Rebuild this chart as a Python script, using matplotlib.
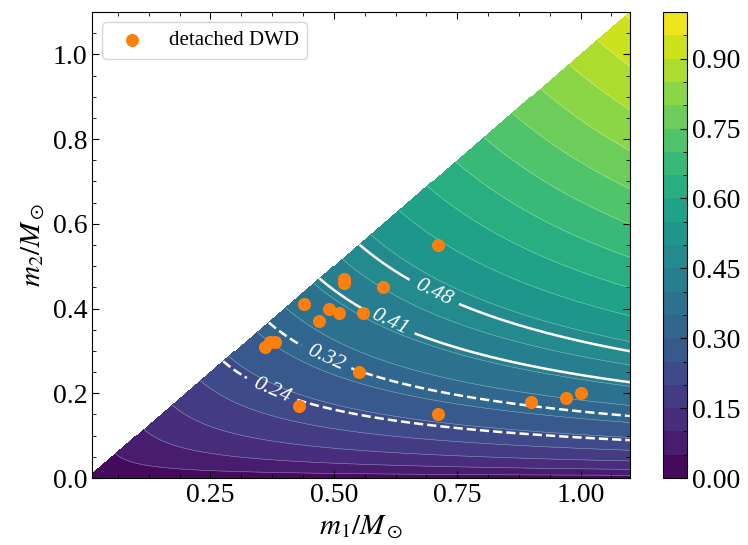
import numpy as np
import matplotlib
matplotlib.use('Agg')
import matplotlib.pyplot as plt
from matplotlib.ticker import AutoMinorLocator, MultipleLocator

plt.rcParams['font.family'] = ['Liberation Serif', 'DejaVu Serif']
plt.rcParams['mathtext.fontset'] = 'stix'
plt.rcParams['xtick.direction'] = 'in'
plt.rcParams['ytick.direction'] = 'in'
plt.rcParams['xtick.top'] = True
plt.rcParams['ytick.right'] = True

# Detached double white dwarfs (m1, m2) in solar masses
dwd_m1 = [0.71, 0.52, 0.52, 0.60, 0.44, 0.49, 0.51, 0.56, 0.47,
          0.38, 0.37, 0.36, 0.55, 0.43, 0.71, 0.90, 0.97, 1.00]
dwd_m2 = [0.55, 0.47, 0.46, 0.45, 0.41, 0.40, 0.39, 0.39, 0.37,
          0.32, 0.32, 0.31, 0.25, 0.17, 0.15, 0.18, 0.19, 0.20]

# Chirp mass levels
fill_levels = np.linspace(0.0, 1.0, 21)
line_levels = [0.24, 0.32, 0.41, 0.48]
line_styles = ['dashed', 'dashed', 'solid', 'solid']
label_spots = [(0.375, 0.211), (0.485, 0.286), (0.611, 0.364), (0.705, 0.443)]

# Grid (m2 <= m1 only)
m1 = np.linspace(0.01, 1.1, 600)
m2 = np.linspace(0.0, 1.1, 600)
M1, M2 = np.meshgrid(m1, m2)
chirp = (M1 * M2) ** 0.6 / (M1 + M2) ** 0.2
chirp = np.ma.masked_where(M2 > M1, chirp)

fig = plt.figure(figsize=(7.48, 5.45), dpi=100)
ax = fig.add_axes([92 / 748, 1 - 478 / 545, 538 / 748, 466 / 545])
cax = fig.add_axes([663 / 748, 1 - 478 / 545, 24 / 748, 466 / 545])

cf = ax.contourf(M1, M2, chirp, levels=fill_levels, cmap='viridis')
ax.contour(M1, M2, chirp, levels=fill_levels, colors='white',
           linewidths=0.4, alpha=0.45)
cs = ax.contour(M1, M2, chirp, levels=line_levels, colors='white',
                linewidths=1.8, linestyles=line_styles)
labels = ax.clabel(cs, fmt='%.2f', fontsize=16, manual=label_spots, inline_spacing=8)
for t in labels:
    t.set_fontstyle('italic')

ax.scatter(dwd_m1, dwd_m2, s=70, color='#ff7f0e', zorder=5, label='detached DWD')

ax.set_xlim(0.01, 1.1)
ax.set_ylim(0.0, 1.1)
ax.set_xticks([0.25, 0.50, 0.75, 1.00])
ax.set_yticks([0.0, 0.2, 0.4, 0.6, 0.8, 1.0])
ax.xaxis.set_minor_locator(AutoMinorLocator(4))
ax.yaxis.set_minor_locator(AutoMinorLocator(4))
ax.tick_params(which='major', length=5, labelsize=20)
ax.tick_params(which='minor', length=3)
ax.set_xlabel(r'$m_1/M_\odot$', fontsize=21)
ax.set_ylabel(r'$m_2/M_\odot$', fontsize=21)
ax.legend(loc='upper left', fontsize=15)

cbar = fig.colorbar(cf, cax=cax)
cbar.set_ticks([0.0, 0.15, 0.30, 0.45, 0.60, 0.75, 0.90])
cbar.ax.yaxis.set_minor_locator(MultipleLocator(0.05))
cbar.ax.tick_params(which='major', length=5, labelsize=20, direction='in')
cbar.ax.tick_params(which='minor', length=3, direction='in')

fig.savefig('out.png', dpi=100)
